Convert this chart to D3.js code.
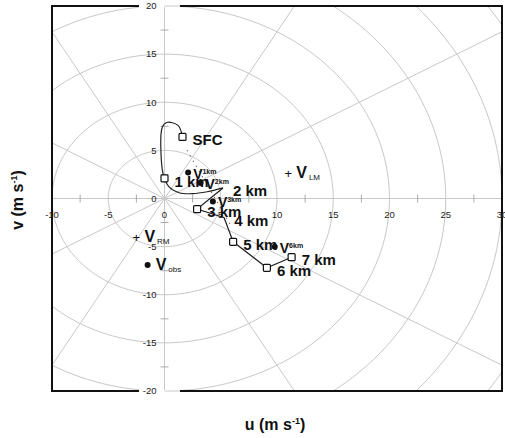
<!DOCTYPE html>
<html><head><meta charset="utf-8">
<script src="https://cdn.jsdelivr.net/npm/d3@7"></script>
<style>body{margin:0;background:#fff}svg{display:block}</style>
</head><body>
<svg id="c" width="505" height="438"></svg>
<script>
// ---- data ----
const uTicks = [-10,-5,0,5,10,15,20,25,30];
const vTicks = [20,15,10,5,0,-5,-10,-15,-20];
const minorTicks = [-17.5,-12.5,-7.5,-2.5,2.5,7.5,12.5,17.5,22.5,27.5];
const rings = [5,10,15,20,25,30,35];
const spokes = [0,30,60,90,120,150,180,210,240,270,300,330];

// hodograph trace (u, v) in m/s : smooth low-level part, then straight upper part
const lowU = [1.6,1.2,0.2,-0.2,-0.2,0.0,0.4,1.3,2.5,3.8,5.2];
const lowV = [6.4,7.6,7.9,7.4,3.0,2.1,1.2,0.6,0.5,0.7,1.1];
const upU = [5.2,2.9,5.3,6.1,9.1,11.3];
const upV = [1.1,-1.1,-2.0,-4.5,-7.2,-6.1];
// height levels
const levelNames = ["SFC","1 km","2 km","3 km","4 km","5 km","6 km","7 km"];
const levelU = [1.6,0.0,5.2,2.9,5.3,6.1,9.1,11.3];
const levelV = [6.4,2.1,1.1,-1.1,-2.0,-4.5,-7.2,-6.1];
const levelSquare = [true,true,false,true,false,true,true,true];
// mean-wind dots
const meanNames = ["1km","2km","3km","6km"];
const meanU = [2.1,3.2,4.3,9.8];
const meanV = [2.7,1.6,-0.3,-5.0];
// storm motion markers
const markNames = ["LM","RM","obs"];
const markU = [11.0,-2.5,-1.5];
const markV = [2.6,-4.0,-6.9];
const markType = ["plus","plus","dot"];
// dotted guide
const guideU = [2.0,6.0];
const guideV = [5.0,-3.0];

// ---- layout ----
const L=52,R=502,T=6,B=391;
const svg=d3.select("#c");
const x=d3.scaleLinear().domain([-10,30]).range([L,R]);
const y=d3.scaleLinear().domain([-20,20]).range([B,T]);
const font="'Liberation Sans', Arial, sans-serif";
const grid="#c8c8c8";

svg.append("defs").append("clipPath").attr("id","clip")
  .append("rect").attr("x",L).attr("y",T).attr("width",R-L).attr("height",B-T);
const g=svg.append("g").attr("clip-path","url(#clip)");

// rings
const ang=d3.range(0,361,2);
const ringLine=d3.line().x(d=>d[0]).y(d=>d[1]);
rings.forEach(r=>{
  g.append("path").attr("fill","none").attr("stroke",grid).attr("stroke-width",1)
   .attr("d",ringLine(ang.map(a=>[x(r*Math.cos(a*Math.PI/180)),y(r*Math.sin(a*Math.PI/180))])));
});
// spokes
spokes.forEach(a=>{
  const t=a*Math.PI/180;
  g.append("line").attr("x1",x(0)).attr("y1",y(0))
   .attr("x2",x(45*Math.cos(t))).attr("y2",y(45*Math.sin(t)))
   .attr("stroke",grid).attr("stroke-width",1);
});
// minor ticks
minorTicks.forEach(t=>{
  if(t>=-10&&t<=30) g.append("line").attr("x1",x(t)).attr("x2",x(t)).attr("y1",y(0)-4).attr("y2",y(0)+4).attr("stroke","#aaa");
  if(t>=-20&&t<=20) g.append("line").attr("y1",y(t)).attr("y2",y(t)).attr("x1",x(0)-4).attr("x2",x(0)+4).attr("stroke","#aaa");
});

// frame
svg.append("rect").attr("x",L).attr("y",T).attr("width",R-L).attr("height",B-T)
  .attr("fill","none").attr("stroke","#111").attr("stroke-width",2);

// tick labels
[20,-20].forEach(v=>{
  svg.append("rect").attr("x",139).attr("y",y(v)-3).attr("width",41).attr("height",6).attr("fill","#fff");
  svg.append("line").attr("x1",x(0)).attr("x2",180).attr("y1",y(v)).attr("y2",y(v)).attr("stroke",grid);
  svg.append("line").attr("x1",x(0)).attr("x2",x(0)).attr("y1",y(v)-(v>0?-1:1)).attr("y2",y(v)+(v>0?8:-8)).attr("stroke",grid);
});
vTicks.forEach(v=>{
  svg.append("text").attr("x",x(0)-8).attr("y",y(v)).attr("dy","0.35em")
   .attr("text-anchor","end").attr("font-family",font).attr("font-size",9.5).attr("fill","#222").text(v);
});
uTicks.forEach(u=>{
  svg.append("text").attr("x",x(u)).attr("y",y(0)+16).attr("dy","0.35em")
   .attr("text-anchor","middle").attr("font-family",font).attr("font-size",9.5).attr("fill","#222").text(u);
});

// dotted guide
svg.append("line").attr("x1",x(guideU[0])).attr("y1",y(guideV[0])).attr("x2",x(guideU[1])).attr("y2",y(guideV[1]))
  .attr("stroke","#555").attr("stroke-dasharray","1,5").attr("stroke-width",1.2);

// hodograph
const lowPts=lowU.map((u,i)=>[x(u),y(lowV[i])]);
svg.append("path").attr("fill","none").attr("stroke","#222").attr("stroke-width",1.2)
  .attr("d",d3.line().curve(d3.curveCatmullRom.alpha(0.5))(lowPts));
const upPts=upU.map((u,i)=>[x(u),y(upV[i])]);
svg.append("path").attr("fill","none").attr("stroke","#222").attr("stroke-width",1.2)
  .attr("d",d3.line()(upPts));

// mean wind dots
meanU.forEach((u,i)=>{
  svg.append("circle").attr("cx",x(u)).attr("cy",y(meanV[i])).attr("r",3).attr("fill","#111");
  const t=svg.append("text").attr("x",x(u)+5).attr("y",y(meanV[i])+6)
    .attr("font-family",font).attr("font-weight","bold").attr("font-size",14).attr("fill","#111");
  t.append("tspan").text("V");
  t.append("tspan").attr("font-size",7).attr("dy",-5).text(meanNames[i]);
});

// level squares + labels
levelU.forEach((u,i)=>{
  if(levelSquare[i]) svg.append("rect").attr("x",x(u)-3.5).attr("y",y(levelV[i])-3.5).attr("width",7).attr("height",7).attr("rx",1)
    .attr("fill","#fff").attr("stroke","#111").attr("stroke-width",1.2);
  svg.append("text").attr("x",x(u)+10).attr("y",y(levelV[i])+3).attr("dy","0.35em")
    .attr("font-family",font).attr("font-weight","bold").attr("font-size",15).attr("fill","#111").text(levelNames[i]);
});

// storm motion markers
markU.forEach((u,i)=>{
  const cx=x(u),cy=y(markV[i]);
  if(markType[i]==="plus"){
    svg.append("text").attr("x",cx).attr("y",cy).attr("dy","0.35em").attr("text-anchor","middle")
      .attr("font-family",font).attr("font-size",13).attr("fill","#111").text("+");
  } else {
    svg.append("circle").attr("cx",cx).attr("cy",cy).attr("r",3).attr("fill","#111");
  }
  const t=svg.append("text").attr("x",cx+8).attr("y",cy+5)
    .attr("font-family",font).attr("font-size",16).attr("font-weight","bold").attr("fill","#111");
  t.append("tspan").text("V");
  t.append("tspan").attr("font-size",8).attr("font-weight","normal").attr("dx",2).attr("dy",2).text(markNames[i]);
});

// axis titles
const xt=svg.append("text").attr("x",275).attr("y",430).attr("text-anchor","middle")
  .attr("font-family",font).attr("font-weight","bold").attr("font-size",16).attr("fill","#111");
xt.append("tspan").text("u (m s");
xt.append("tspan").attr("font-size",9).attr("dy",-6).text("-1");
xt.append("tspan").attr("dy",6).text(")");
const yt=svg.append("text").attr("transform","translate(23,200) rotate(-90)").attr("text-anchor","middle")
  .attr("font-family",font).attr("font-weight","bold").attr("font-size",16).attr("fill","#111");
yt.append("tspan").text("v (m s");
yt.append("tspan").attr("font-size",9).attr("dy",-6).text("-1");
yt.append("tspan").attr("dy",6).text(")");
</script>
</body></html>
